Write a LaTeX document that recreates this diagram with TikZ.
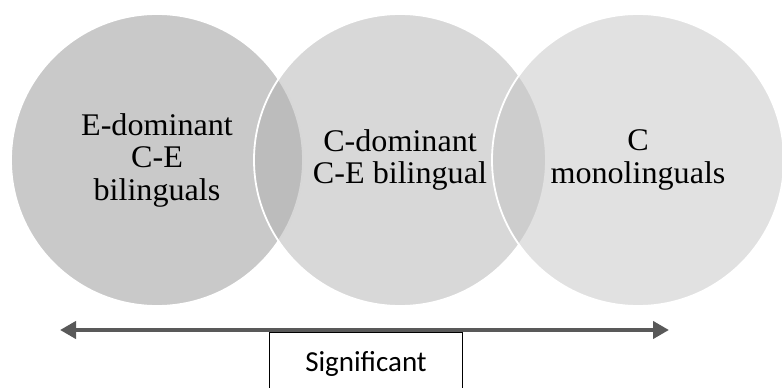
\documentclass[tikz,border=0pt]{standalone}
\usepackage{fontspec}
\setmainfont{Liberation Serif}[FakeStretch=1.02]
\newfontfamily\boxfont{Carlito}
\usetikzlibrary{arrows.meta}

\definecolor{leftgray}{RGB}{201,201,201}
\definecolor{midgray}{RGB}{177,177,177}
\definecolor{rightgray}{RGB}{196,196,196}
\definecolor{arrowgray}{RGB}{89,89,89}

\begin{document}
\begin{tikzpicture}[
x=1pt, y=-1pt,
bubble/.style={circle, draw=white, line width=1.8pt, minimum size=292pt, inner sep=0pt, align=center, font=\fontsize{31.5}{32.5}\selectfont},
arrow/.style={{Triangle[length=16pt,width=17pt]}-{Triangle[length=16pt,width=17pt]}, line width=4.5pt, arrowgray}
]
\useasboundingbox (0,0) rectangle (782,388);

% three overlapping groups
\node[bubble, fill=leftgray] (edom) at (157,160) {E-dominant\\C-E\\bilinguals};
\node[bubble, fill=midgray, fill opacity=.5, text opacity=1] (cdom) at (400,160) {C-dominant\\C-E bilingual};
\node[bubble, fill=rightgray, fill opacity=.5, text opacity=1] (cmono) at (638,160) {C\\monolinguals};

\node[draw, line width=1.4pt, minimum width=193pt, minimum height=62pt, anchor=north, font=\boxfont\fontsize{29}{32}\selectfont] (sig) at (366,332) {Significant};

% scale underneath
\coordinate (from) at (60,330);
\coordinate (to) at (669,330);
\draw[arrow] (from) -- (to);

\end{tikzpicture}
\end{document}
